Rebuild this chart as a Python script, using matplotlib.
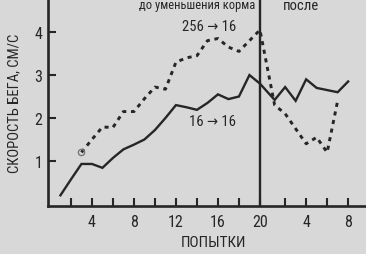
import numpy as np
import matplotlib
matplotlib.use("Agg")
import matplotlib.pyplot as plt
from matplotlib import font_manager

# pick a narrow sans font if one is installed, else Liberation Sans
_fonts = font_manager.fontManager.ttflist
_narrow = [f for f in _fonts
           if (('Narrow' in f.name) or ('Condensed' in f.name)
               or f.stretch in ('condensed', 'semi-condensed', 'extra-condensed'))
           and f.style == 'normal' and f.weight in (400, 'normal', 'regular')]
_pref = ['Liberation Sans Narrow', 'Roboto Condensed', 'Open Sans Condensed',
         'DejaVu Sans Condensed', 'Noto Sans Condensed']
_chosen = None
for p in _pref:
    for f in _narrow:
        if f.name == p:
            _chosen = f
            break
    if _chosen:
        break
if _chosen is None and _narrow:
    _chosen = _narrow[0]

if _chosen is not None:
    font_manager.fontManager.addfont(_chosen.fname)
    plt.rcParams['font.family'] = [_chosen.name, 'DejaVu Sans']
    plt.rcParams['font.stretch'] = _chosen.stretch
    FS = 10.5
else:
    plt.rcParams['font.family'] = ['Liberation Sans', 'DejaVu Sans']
    FS = 9.0

# ---- data ----
pre_trials = list(range(1, 21))
post_trials = list(range(1, 9))
solid_pre = [0.2, 0.57, 0.93, 0.93, 0.84, 1.07, 1.27, 1.38, 1.5, 1.72,
             2.0, 2.3, 2.25, 2.19, 2.35, 2.55, 2.44, 2.5, 3.0, 2.8]
solid_post = [2.42, 2.72, 2.4, 2.9, 2.7, 2.65, 2.6, 2.85]
dashed_pre_trials = list(range(3, 21))
dashed_pre = [1.2, 1.5, 1.79, 1.78, 2.15, 2.15, 2.45, 2.72, 2.67, 3.3,
              3.4, 3.45, 3.8, 3.85, 3.65, 3.55, 3.8, 4.05]
dashed_post_trials = list(range(1, 8))
dashed_post = [2.3, 2.1, 1.75, 1.4, 1.55, 1.2, 2.4]
pre_tick_labels = {4: "4", 8: "8", 12: "12", 16: "16", 20: "20"}
post_tick_labels = {4: "4", 8: "8"}
y_ticks = [1, 2, 3, 4]

POST_ZERO = 20.4
BG = "#d8d8d8"
INK = "#262626"

fig = plt.figure(figsize=(3.66, 2.55), dpi=100, facecolor=BG)
ax = fig.add_axes([0.131, 0.188, 0.869, 0.812])
ax.set_facecolor(BG)

xs_solid = list(pre_trials) + [POST_ZERO + t for t in post_trials]
ys_solid = solid_pre + solid_post
ax.plot(xs_solid, ys_solid, color=INK, lw=1.7, solid_joinstyle='miter')

xs_dash = list(dashed_pre_trials) + [POST_ZERO + t for t in dashed_post_trials]
ys_dash = dashed_pre + dashed_post
ax.plot(xs_dash, ys_dash, color=INK, lw=2.1, dashes=(1.4, 1.6))
ax.plot([dashed_pre_trials[0]], [dashed_pre[0]], marker='o', ms=4.5,
        mfc='none', mec='#777777', mew=1.0)

ax.axvline(20, color=INK, lw=1.7)

ax.set_xlim(-0.19, 30.1)
ax.set_ylim(-0.05, 4.77)

for s in ['top', 'right']:
    ax.spines[s].set_visible(False)
for s in ['left', 'bottom']:
    ax.spines[s].set_color(INK)
    ax.spines[s].set_linewidth(1.9)

tick_pos = [t for t in range(2, 21, 2)] + [POST_ZERO + t for t in range(2, 9, 2)]
tick_lab = [pre_tick_labels.get(t, "") for t in range(2, 21, 2)] + \
           [post_tick_labels.get(t, "") for t in range(2, 9, 2)]
ax.set_xticks(tick_pos)
ax.set_xticklabels(tick_lab)
ax.set_yticks(y_ticks)
ax.set_yticklabels([str(v) for v in y_ticks])
ax.tick_params(axis='x', direction='in', length=6, width=1.5, color=INK,
               labelsize=FS + 1, labelcolor=INK, pad=6)
ax.tick_params(axis='y', direction='in', length=6, width=1.5, color=INK,
               labelsize=FS + 1, labelcolor=INK, pad=4)

ax.set_xlabel("ПОПЫТКИ", fontsize=FS + 0.5, color=INK)
ax.xaxis.set_label_coords((214 - 48) / 318, -0.14)
ax.set_ylabel("СКОРОСТЬ БЕГА, СМ/С", fontsize=FS, color=INK)
ax.yaxis.set_label_coords(-0.085, 0.5)

ax.text(14.05, 4.64, "до уменьшения корма", ha='center', va='center',
        fontsize=FS * 0.86, color=INK)
ax.text(23.9, 4.64, "после", ha='center', va='center', fontsize=FS, color=INK)
ax.text(15.2, 4.14, "256 → 16", ha='center', va='center', fontsize=FS, color=INK)
ax.text(15.5, 1.93, "16 → 16", ha='center', va='center', fontsize=FS, color=INK)

fig.savefig("out.png", dpi=100, facecolor=BG)
